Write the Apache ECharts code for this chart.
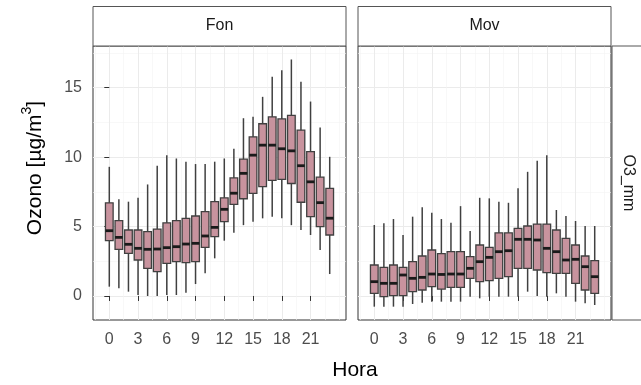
<!DOCTYPE html>
<html>
<head>
<meta charset="utf-8">
<script src="https://cdn.jsdelivr.net/npm/echarts@6/dist/echarts.min.js"></script>
<style>
  html, body { margin: 0; padding: 0; background: #fff; }
  #chart { width: 641px; height: 385px; }
</style>
</head>
<body>
<div id="chart"></div>
<script>
// horas 0..23
var horas = [0,1,2,3,4,5,6,7,8,9,10,11,12,13,14,15,16,17,18,19,20,21,22,23];

// Fon: min, Q1, mediana, Q3, max por hora
var fonMin = [0.67,0.55,0.31,0.07,0.0,0.0,0.07,0.07,0.24,0.86,1.63,2.71,3.98,4.55,5.1,5.35,5.59,5.71,5.59,5.1,4.75,4.39,3.31,1.58];
var fonQ1  = [3.98,3.36,3.07,2.59,1.99,1.75,2.35,2.47,2.40,2.47,3.50,4.27,5.35,6.6,7.0,7.39,7.87,8.33,8.4,8.1,6.75,5.71,5.0,4.39];
var fonMed = [4.70,4.22,3.72,3.43,3.36,3.38,3.48,3.55,3.74,3.79,4.32,4.94,6.24,7.4,8.83,10.14,10.86,10.86,10.6,10.45,9.38,8.22,6.72,5.6];
var fonQ3  = [6.71,5.42,4.75,4.75,4.63,4.82,5.27,5.42,5.59,5.76,6.07,6.79,7.07,8.5,9.85,11.46,12.4,12.9,12.75,13.0,11.94,10.4,8.56,7.75];
var fonMax = [9.3,6.96,6.79,7.07,8.03,9.38,10.14,9.9,9.67,9.5,9.5,9.67,9.9,10.6,12.8,12.9,14.34,15.78,16.26,17.03,15.42,14.0,12.13,10.02];

// Mov
var movMin = [-0.77,-0.77,-0.77,-0.77,-0.58,-0.48,-0.41,-0.41,-0.41,-0.41,-0.05,-0.17,-0.05,-0.05,-0.05,-0.05,0.31,0.0,-0.05,0.19,-0.05,-0.41,-0.53,-0.65];
var movQ1  = [0.19,-0.05,0.02,0.02,0.31,0.43,0.67,0.5,0.62,0.62,1.27,1.03,1.1,1.27,1.39,1.99,1.99,1.87,1.68,1.63,1.63,0.91,0.43,0.19];
var movMed = [1.03,0.91,0.91,1.51,1.27,1.34,1.58,1.55,1.58,1.58,1.99,2.47,2.78,3.19,3.26,4.08,4.08,4.03,3.43,3.19,2.59,2.64,2.11,1.39];
var movQ3  = [2.23,2.06,2.23,2.06,2.47,2.88,3.31,3.05,3.19,3.19,2.83,3.67,3.5,4.55,4.55,4.87,5.04,5.18,5.18,4.75,4.15,3.67,2.88,2.54];
var movMax = [5.11,5.23,5.54,4.39,5.71,6.38,5.99,5.54,5.27,6.47,4.68,7.07,7.03,6.79,6.71,7.75,8.94,9.74,10.14,6.19,5.76,5.40,5.04,5.04];

var paneles = ['Fon', 'Mov'];
var xTicks = [0,3,6,9,12,15,18,21];
var yTicks = [0,5,10,15];
var xMinor = [-1.5,1.5,4.5,7.5,10.5,13.5,16.5,19.5,22.5,24];
var yMinor = [2.5,7.5,12.5,17.5];

var FONT = '"Liberation Sans", Arial, sans-serif';
var BOX_W = 0.8;
var X_RANGE = [-1.7, 24.7];
var Y_RANGE = [-1.73, 18.0];

function filas(mn, q1, md, q3, mx) {
  return horas.map(function (h, i) { return [h, mn[i], q1[i], md[i], q3[i], mx[i]]; });
}

function renderBox(params, api) {
  var x = api.value(0);
  var lo = api.coord([x, api.value(1)]);
  var q1 = api.coord([x, api.value(2)]);
  var md = api.coord([x, api.value(3)]);
  var q3 = api.coord([x, api.value(4)]);
  var hi = api.coord([x, api.value(5)]);
  var w = api.size([BOX_W, 0])[0];
  return {
    type: 'group',
    children: [
      { type: 'line', shape: { x1: lo[0], y1: lo[1], x2: hi[0], y2: hi[1] }, style: { stroke: '#404040', lineWidth: 1.5 } },
      { type: 'rect', shape: { x: q3[0] - w / 2, y: q3[1], width: w, height: q1[1] - q3[1] }, style: { fill: '#c8939e', stroke: '#404040', lineWidth: 1.3 } },
      { type: 'line', shape: { x1: md[0] - w / 2, y1: md[1], x2: md[0] + w / 2, y2: md[1] }, style: { stroke: '#1a1a1a', lineWidth: 2.8 } }
    ]
  };
}

var grids = [
  { left: 93, top: 46, width: 253, height: 274 },
  { left: 358, top: 46, width: 253, height: 274 }
];

var xAxes = [], yAxes = [], series = [];
paneles.forEach(function (p, g) {
  grids[g].show = true;
  grids[g].borderColor = '#333';
  grids[g].borderWidth = 1;
  grids[g].backgroundColor = '#fff';
  xAxes.push({
    type: 'value', gridIndex: g, position: 'bottom', min: X_RANGE[0], max: X_RANGE[1],
    axisLine: { show: false },
    axisTick: { show: true, length: 5, customValues: xTicks, lineStyle: { color: '#333' } },
    axisLabel: { customValues: xTicks, margin: 12, fontSize: 16, color: '#4d4d4d', fontFamily: FONT },
    splitLine: { show: true, lineStyle: { color: '#ebebeb', width: 1 } }
  });
  yAxes.push({
    type: 'value', gridIndex: g, position: 'left', min: Y_RANGE[0], max: Y_RANGE[1],
    axisLine: { show: false },
    axisTick: { show: g === 0, length: 5, customValues: yTicks, lineStyle: { color: '#333' } },
    axisLabel: { show: g === 0, customValues: yTicks, margin: 11, fontSize: 16, color: '#4d4d4d', fontFamily: FONT },
    splitLine: { show: true, lineStyle: { color: '#ebebeb', width: 1 } }
  });
});
// ejes auxiliares para la rejilla menor
paneles.forEach(function (p, g) {
  xAxes.push({
    type: 'value', gridIndex: g, position: 'bottom', min: X_RANGE[0], max: X_RANGE[1],
    axisLine: { show: false },
    axisTick: { show: false, customValues: xMinor },
    axisLabel: { show: false, customValues: xMinor },
    splitLine: { show: true, lineStyle: { color: '#f4f4f4', width: 0.6 } }
  });
  yAxes.push({
    type: 'value', gridIndex: g, position: 'left', min: Y_RANGE[0], max: Y_RANGE[1],
    axisLine: { show: false },
    axisTick: { show: false, customValues: yMinor },
    axisLabel: { show: false, customValues: yMinor },
    splitLine: { show: true, lineStyle: { color: '#f4f4f4', width: 0.6 } }
  });
});

series.push({
  type: 'custom', name: 'Fon', xAxisIndex: 0, yAxisIndex: 0, z: 3,
  renderItem: renderBox, encode: { x: 0, y: [1, 2, 3, 4, 5] },
  data: filas(fonMin, fonQ1, fonMed, fonQ3, fonMax)
});
series.push({
  type: 'custom', name: 'Mov', xAxisIndex: 1, yAxisIndex: 1, z: 3,
  renderItem: renderBox, encode: { x: 0, y: [1, 2, 3, 4, 5] },
  data: filas(movMin, movQ1, movMed, movQ3, movMax)
});

var tiras = [];
paneles.forEach(function (p, g) {
  var gr = grids[g];
  tiras.push({
    type: 'rect', shape: { x: gr.left, y: 6.5, width: gr.width, height: 39.5 },
    style: { fill: '#fff', stroke: '#555', lineWidth: 1 }, z: 10
  });
  tiras.push({
    type: 'text', x: gr.left + gr.width / 2, y: 26,
    style: { text: p, fontSize: 16, fontFamily: FONT, fill: '#1a1a1a', align: 'center', verticalAlign: 'middle' }, z: 11
  });
});
// tira derecha
tiras.push({
  type: 'rect', shape: { x: 612, y: 46, width: 60, height: 274 },
  style: { fill: '#fff', stroke: '#555', lineWidth: 1 }, z: 10
});
tiras.push({
  type: 'text', x: 628, y: 183, rotation: -Math.PI / 2,
  style: { text: 'O3_mm', fontSize: 16, fontFamily: FONT, fill: '#1a1a1a', align: 'center', verticalAlign: 'middle' }, z: 11
});
// titulos de ejes
tiras.push({
  type: 'text', x: 355, y: 370,
  style: { text: 'Hora', fontSize: 21, fontFamily: FONT, fill: '#000', align: 'center', verticalAlign: 'middle' }, z: 11
});
tiras.push({
  type: 'text', x: 33, y: 168, rotation: Math.PI / 2,
  style: {
    text: '{a|Ozono [µg/m}{s|3}{a|]}',
    rich: {
      a: { fontSize: 21, fontFamily: FONT, fill: '#000', verticalAlign: 'bottom' },
      s: { fontSize: 14, fontFamily: FONT, fill: '#000', padding: [0, 0, 11, 0] }
    },
    align: 'center', verticalAlign: 'middle'
  }, z: 11
});

var chart = echarts.init(document.getElementById('chart'));
chart.setOption({
  animation: false,
  backgroundColor: '#fff',
  grid: grids,
  xAxis: xAxes,
  yAxis: yAxes,
  series: series,
  graphic: tiras
});
</script>
</body>
</html>
